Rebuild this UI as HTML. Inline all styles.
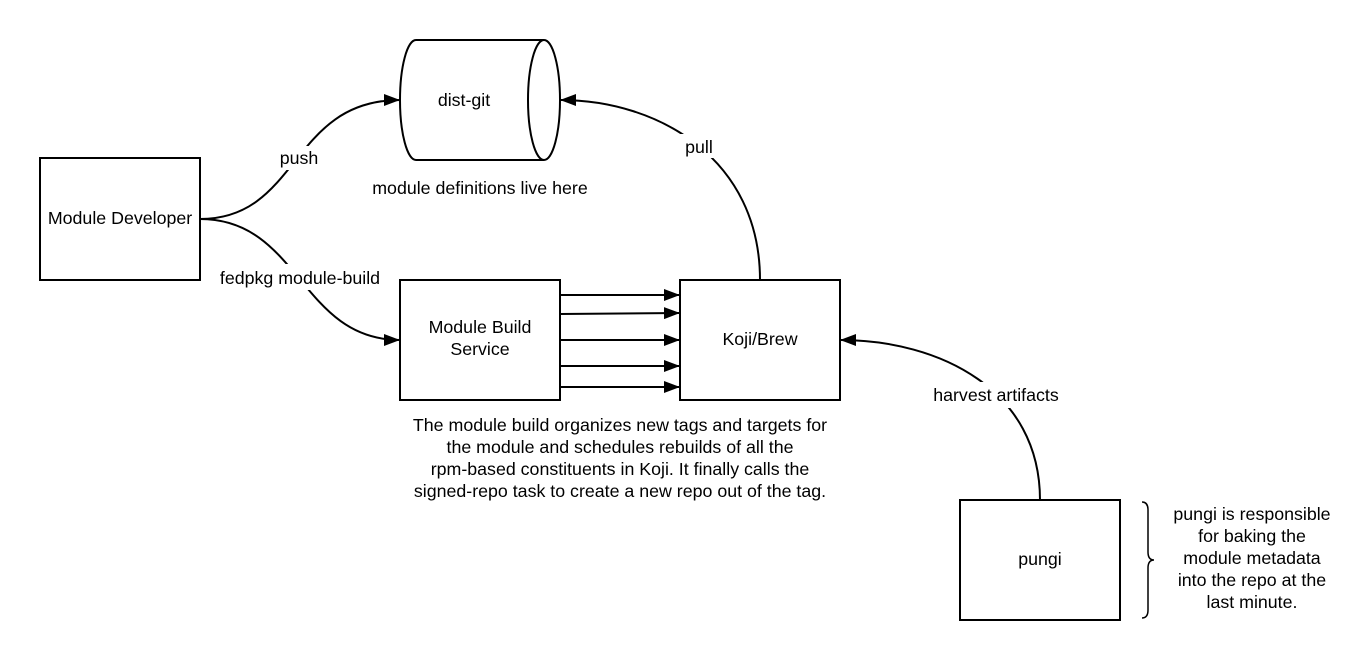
<!DOCTYPE html>
<html><head><style>
body{margin:0;background:#fff;}
svg text{font-family:"Liberation Sans",Arial,sans-serif;font-size:17.8px;fill:#000;}
</style></head><body>
<svg width="1360" height="660" viewBox="0 0 1360 660" xmlns="http://www.w3.org/2000/svg">
<defs><marker id="a" markerWidth="16" markerHeight="12" refX="16" refY="6" orient="auto" markerUnits="userSpaceOnUse"><path d="M0,0 L16,6 L0,12 z" fill="#000"/></marker></defs>
<g fill="none" stroke="#000" stroke-width="2">
<rect x="40" y="158" width="160" height="122" fill="#fff"/>
<rect x="400" y="280" width="160" height="120"/>
<rect x="680" y="280" width="160" height="120"/>
<rect x="960" y="500" width="160" height="120"/>
<path d="M416,40 L544,40 A16,60 0 0 1 544,160 L416,160 A16,60 0 0 1 416,40 Z" fill="#fff"/>
<path d="M544,40 A16,60 0 0 0 544,160"/>
<path d="M200,219 C300,219 290,100 400,100" marker-end="url(#a)"/>
<path d="M200,219 C300,219 300,340 400,340" marker-end="url(#a)"/>
<path d="M760,280 C760,160 660,100 560,100" marker-end="url(#a)"/>
<path d="M1040,500 C1040,390 940,340 840,340" marker-end="url(#a)"/>
<path d="M560,295 L680,295" marker-end="url(#a)"/>
<path d="M560,314 L680,313" marker-end="url(#a)"/>
<path d="M560,340 L680,340" marker-end="url(#a)"/>
<path d="M560,366 L680,366" marker-end="url(#a)"/>
<path d="M560,387 L680,387" marker-end="url(#a)"/>
<path d="M1142,502 Q1148,502 1148,510 L1148,552 Q1148,560 1154,560 Q1148,560 1148,568 L1148,610 Q1148,618 1142,618" stroke-width="1.5"/>
</g>
<g text-anchor="middle">
<rect x="268" y="146" width="64" height="24" fill="#fff"/>
<text x="299" y="164">push</text>
<rect x="214" y="264" width="172" height="26" fill="#fff"/>
<text x="300" y="284">fedpkg module-build</text>
<rect x="678" y="134" width="44" height="24" fill="#fff"/>
<text x="699" y="153">pull</text>
<rect x="924" y="382" width="144" height="26" fill="#fff"/>
<text x="996" y="401">harvest artifacts</text>
<text x="120" y="224">Module Developer</text>
<text x="464" y="106">dist-git</text>
<text x="480" y="194">module definitions live here</text>
<text x="480" y="333">Module Build</text>
<text x="480" y="355">Service</text>
<text x="760" y="345">Koji/Brew</text>
<text x="1040" y="565">pungi</text>
<text x="620" y="431">The module build organizes new tags and targets for</text>
<text x="620" y="453">the module and schedules rebuilds of all the</text>
<text x="620" y="475">rpm-based constituents in Koji.  It finally calls the</text>
<text x="620" y="497">signed-repo task to create a new repo out of the tag.</text>
<text x="1252" y="520">pungi is responsible</text>
<text x="1252" y="542">for baking the</text>
<text x="1252" y="564">module metadata</text>
<text x="1252" y="586">into the repo at the</text>
<text x="1252" y="608">last minute.</text>
</g>
</svg>
</body></html>
